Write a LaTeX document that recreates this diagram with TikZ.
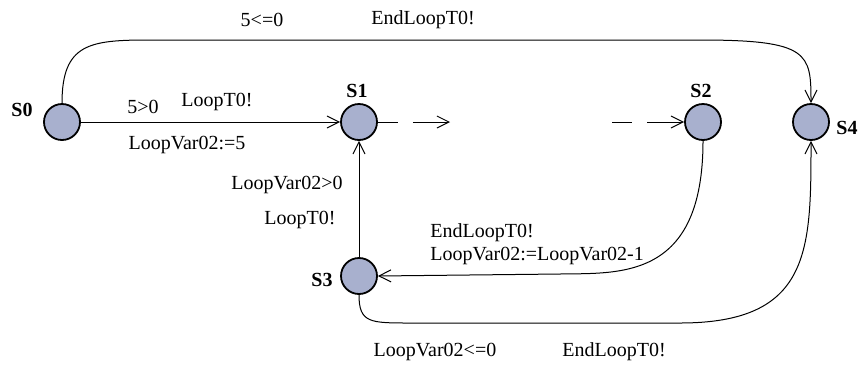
\documentclass[tikz,border=0pt]{standalone}
\usepackage{xcolor}
\usepackage{fontspec}
\setmainfont{Liberation Serif}
\usetikzlibrary{arrows.meta}
\definecolor{locfill}{RGB}{168,176,206}

\begin{document}
\begin{tikzpicture}[x=0.5pt,y=-0.5pt,
		loc/.style={circle, draw, line width=0.9pt, fill=locfill, minimum size=18pt, inner sep=0pt},
		locname/.style={font=\bfseries},
		lab/.style={inner sep=0pt},
		edge/.style={line width=0.5pt, -{Straight Barb[length=6pt,width=6pt]}},
		gap/.style={dash pattern=on 10pt off 7.5pt on 40pt}]
		\useasboundingbox (0,0) rectangle (861,365);
		% locations
		\node[loc](S0) at (62,122){};
		\node[loc](S1) at (359,122){};
		\node[loc](S2) at (703,122){};
		\node[loc](S4) at (811,122){};
		\node[loc](S3) at (359,276){};
		\node[locname](n0) at (22,110){S0};
		\node[locname](n1) at (357,91){S1};
		\node[locname](n2) at (701,91){S2};
		\node[locname](n4) at (847,128){S4};
		\node[locname](n3) at (322,280){S3};
		% free ends
		\coordinate(d1) at (450,122);
		\coordinate(d2) at (612,122);
		\coordinate(t1) at (150,40);
		\coordinate(t2) at (700,40);
		\coordinate(m1) at (560,274);
		\coordinate(b1) at (410,323);
		\coordinate(b2) at (680,323);
		% transitions
		\draw[edge](S0)--(S1);
		\draw[edge](S0.north)..controls +(0,-60) and +(-60,0)..(t1)--(t2)..controls +(109,0) and +(0,-50)..(S4.north);
		\draw[edge,gap](S1)--(d1);
		\draw[edge,gap](d2)--(S2);
		\draw[edge](S3)--(S1);
		\draw[edge](S2.south)..controls (703,280) and (620,273)..(m1)--(S3.east);
		\draw[edge](S3.south)..controls +(0,28) and +(-40,0)..(b1)--(b2)..controls (811,323) and (811,250)..(S4.south);
		% labels
		\node[lab](g1) at (262,20){5<=0};
		\node[lab](s1) at (423,20){EndLoopT0!};
		\node[lab](g2) at (143,107){5>0};
		\node[lab](s2) at (217,102){LoopT0!};
		\node[lab](a2) at (187,145){LoopVar02:=5};
		\node[lab](g3) at (287,185){LoopVar02>0};
		\node[lab](s3) at (300,220){LoopT0!};
		\node[lab,anchor=west](s4) at (430,233){EndLoopT0!};
		\node[lab,anchor=west](a4) at (430,256){LoopVar02:=LoopVar02-1};
		\node[lab](g5) at (435,352){LoopVar02<=0};
		\node[lab](s5) at (614,352){EndLoopT0!};
\end{tikzpicture}
\end{document}
